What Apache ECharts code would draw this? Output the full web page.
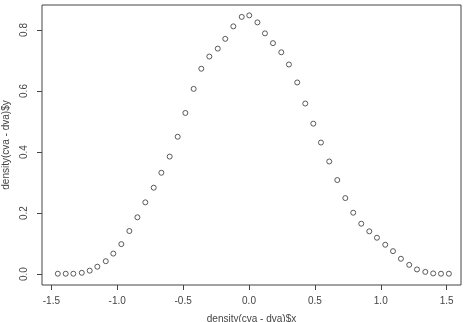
<!DOCTYPE html>
<html>
<head>
<meta charset="utf-8">
<script src="https://cdn.jsdelivr.net/npm/echarts@6/dist/echarts.min.js"></script>
<style>html,body{margin:0;padding:0;background:#fff;}#c{width:469px;height:322px;}</style>
</head>
<body>
<div id="c"></div>
<script>
const xValues = [-1.451,-1.391,-1.333,-1.269,-1.209,-1.151,-1.087,-1.030,-0.969,-0.908,
  -0.847,-0.787,-0.723,-0.665,-0.602,-0.541,-0.483,-0.420,-0.362,-0.301,
  -0.237,-0.180,-0.119,-0.055,0.002,0.064,0.121,0.182,0.245,0.303,
  0.366,0.427,0.488,0.546,0.609,0.670,0.731,0.791,0.852,0.913,
  0.971,1.034,1.093,1.153,1.216,1.275,1.338,1.398,1.457,1.517];
const yValues = [0.001,0.001,0.001,0.004,0.011,0.024,0.042,0.067,0.098,0.141,
  0.186,0.235,0.283,0.332,0.385,0.450,0.528,0.607,0.673,0.713,
  0.739,0.771,0.812,0.843,0.848,0.825,0.789,0.757,0.727,0.687,
  0.628,0.559,0.493,0.431,0.369,0.308,0.249,0.201,0.165,0.140,
  0.119,0.096,0.075,0.050,0.030,0.015,0.007,0.002,0.001,0.001];
const xTicks = [-1.5,-1.0,-0.5,0.0,0.5,1.0,1.5];
const yTicks = [0.0,0.2,0.4,0.6,0.8];
const xLabel = 'density(cva - dva)$x';
const yLabel = 'density(cva - dva)$y';

const ink = '#444';
const font = 'Liberation Sans, Arial, sans-serif';
const chart = echarts.init(document.getElementById('c'), null, {renderer:'canvas'});
chart.setOption({
  animation:false,
  backgroundColor:'#fff',
  grid:{left:42,right:8,top:5,bottom:37,outerBoundsMode:'none',containLabel:false,show:true,borderColor:ink,borderWidth:1,backgroundColor:'transparent'},
  xAxis:{
    type:'value',min:-1.571,max:1.609,
    name:xLabel,nameLocation:'middle',nameGap:29,
    nameTextStyle:{color:ink,fontFamily:font,fontSize:10},
    axisLine:{show:false,onZero:false},
    splitLine:{show:false},
    axisTick:{show:true,length:5,lineStyle:{color:ink},customValues:xTicks},
    axisLabel:{color:ink,fontFamily:font,fontSize:10,margin:11,customValues:xTicks,
      formatter:v=>v.toFixed(1)}
  },
  yAxis:{
    type:'value',min:-0.036,max:0.882,
    name:yLabel,nameLocation:'middle',nameGap:23,nameRotate:90,
    nameTextStyle:{color:ink,fontFamily:font,fontSize:10},
    axisLine:{show:false,onZero:false},
    splitLine:{show:false},
    axisTick:{show:true,length:5,lineStyle:{color:ink},customValues:yTicks},
    axisLabel:{color:ink,fontFamily:font,fontSize:10,margin:13,rotate:90,customValues:yTicks,
      formatter:v=>v.toFixed(1)}
  },
  series:[{
    type:'scatter',
    data:xValues.map((x,i)=>[x,yValues[i]]),
    symbol:'circle',symbolSize:5,
    itemStyle:{color:'rgba(0,0,0,0)',borderColor:'#333',borderWidth:1}
  }]
});
</script>
</body>
</html>
